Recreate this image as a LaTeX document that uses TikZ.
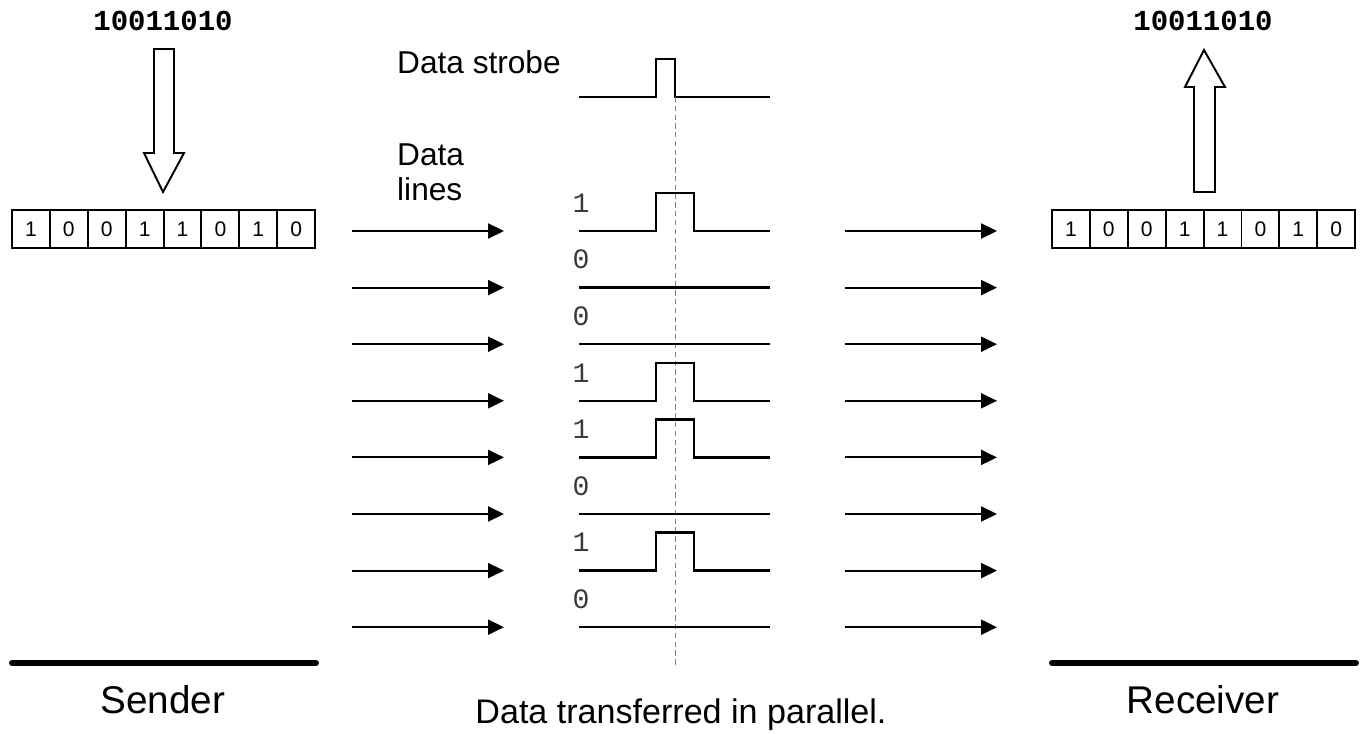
\documentclass[tikz,border=0pt]{standalone}
\usepackage{fontspec}
\setmainfont{Liberation Sans}
\newfontfamily\monofont{Liberation Mono}
\usepackage{tikz}
\usetikzlibrary{arrows.meta,positioning}
\definecolor{labelGray}{HTML}{3A3A3A}

\tikzset{
  bitcell/.style={draw, line width=1.1pt, minimum width=0.758cm, minimum height=0.76cm,
    inner sep=0pt, outer sep=0pt, font=\fontsize{12}{14}\selectfont},
  wave/.style={line width=1.4pt},
  dataarrow/.style={line width=1.2pt, -{Triangle[length=0.32cm, width=0.3cm]}},
  hollow/.style={line width=1.1pt},
  levellabel/.style={font=\monofont\fontsize{16}{18}\selectfont, text=labelGray, inner sep=0pt},
  bigword/.style={font=\monofont\bfseries\fontsize{16.5}{18}\selectfont, inner sep=0pt},
}

\begin{document}
\begin{tikzpicture}[x=0.02cm, y=-0.02cm]
    \useasboundingbox (0,0) rectangle (1360,734);

    % words at both ends
    \node[bigword] (sendword) at (163,21) {10011010};
    \node[bigword] (recvword) at (1203,21) {10011010};

    % registers
    \node[bitcell, anchor=west] (l1) at (12,229) {1};
    \node[bitcell, anchor=west] (r1) at (1052,229) {1};
    \foreach \b [count=\i from 2, evaluate=\i as \j using int(\i-1)] in {0,0,1,1,0,1,0} {
        \node[bitcell, right=0pt of l\j] (l\i) {\b};
        \node[bitcell, right=0pt of r\j] (r\i) {\b};
    }

    % hollow arrows
    \draw[hollow] (154,49) -- (174,49) -- (174,153) -- (184,153) -- (163,192)
        -- (144,153) -- (154,153) -- cycle;
    \draw[hollow] (1194,192) -- (1215,192) -- (1215,87) -- (1225,87) -- (1204,50)
        -- (1185,87) -- (1194,87) -- cycle;

    % strobe
    \node[font=\fontsize{18}{20}\selectfont, anchor=west] (strobe) at (391,62) {Data strobe};
    \draw[wave] (579,97) -- (656,97) -- (656,59) -- (675,59) -- (675,97) -- (770,97);
    \draw[gray, line width=0.5pt, densely dashed] (675,97) -- (675,668);

    \node[font=\fontsize{18}{20}\selectfont, align=left, anchor=west] (lines) at (391,172) {Data\\lines};

    % data lines
    \foreach \b [count=\i from 0] in {1,0,0,1,1,0,1,0} {
        \pgfmathsetmacro{\y}{231+56.6*\i}
        \coordinate (ls\i) at (352,\y);
        \coordinate (le\i) at (504,\y);
        \coordinate (rs\i) at (845,\y);
        \coordinate (re\i) at (997,\y);
        \draw[dataarrow] (ls\i) -- (le\i);
        \draw[dataarrow] (rs\i) -- (re\i);
        \node[levellabel] (lv\i) at (581,\y-28) {\b};
        \ifnum\b=1
            \draw[wave] (579,\y) -- (656,\y) -- (656,\y-38) -- (694,\y-38) -- (694,\y) -- (770,\y);
        \else
            \draw[wave] (579,\y) -- (770,\y);
        \fi
    }

    % sender / receiver
    \draw[line width=3.4pt, line cap=round] (12,663) -- (316,663);
    \draw[line width=3.4pt, line cap=round] (1052,663) -- (1356,663);
    \node[font=\fontsize{22}{24}\selectfont] (sender) at (163,700) {Sender};
    \node[font=\fontsize{22}{24}\selectfont] (receiver) at (1203,700) {Receiver};
    \node[font=\fontsize{19.4}{22}\selectfont] (caption) at (681,715) {Data transferred in parallel.};
\end{tikzpicture}
\end{document}
